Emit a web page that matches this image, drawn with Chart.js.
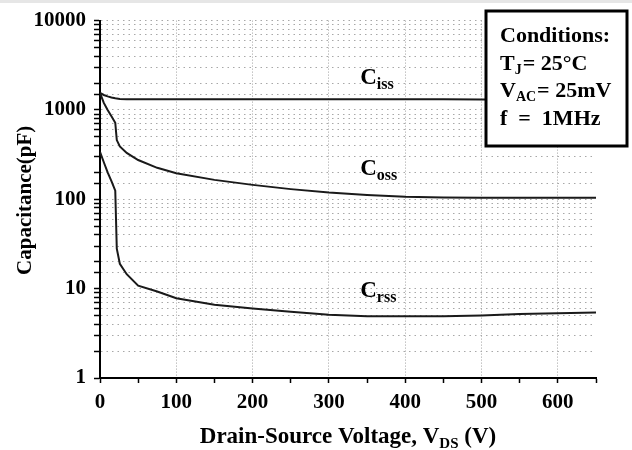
<!DOCTYPE html>
<html>
<head>
<meta charset="utf-8">
<script src="https://cdn.jsdelivr.net/npm/chart.js"></script>
<style>
    body { margin: 0; background: #fff; }
    .topband { position: absolute; left: 0; top: 0; width: 632px; height: 3px; background: #e6e6e6; }
    #capChart { position: absolute; left: 0; top: 0; }
</style>
</head>
<body>
<div class="topband"></div>
<canvas id="capChart" width="632" height="450"></canvas>
<script>
// drain-source voltage (V), shared by the three curves
const volts = [0, 5, 10, 15, 20, 22, 26, 35, 50, 75, 100, 150, 200, 250, 300, 350, 400, 450, 500, 550, 600, 650]

// capacitances (pF)
const ciss = [1550, 1470, 1420, 1380, 1350, 1345, 1330, 1320, 1320, 1320, 1320, 1320, 1320, 1320, 1320, 1320, 1315, 1315, 1310, 1310, 1310, 1310]
const coss = [1550, 1200, 1000, 850, 720, 460, 390, 330, 275, 225, 196, 165, 145, 130, 119, 112, 107, 105, 104, 104, 104, 104]
const crss = [340, 260, 200, 160, 125, 28, 19, 14.5, 10.8, 9.3, 7.8, 6.6, 6.0, 5.5, 5.1, 4.9, 4.9, 4.9, 5.0, 5.2, 5.3, 5.4]

const xTicks = [0, 100, 200, 300, 400, 500, 600]
const yTicks = [1, 10, 100, 1000, 10000]

// curve labels: [main, subscript, voltage, capacitance]
const curveLabels = [
    ['C', 'iss', 341, 1950],
    ['C', 'oss', 341, 185],
    ['C', 'rss', 341, 8]
]

const serif = '"Liberation Serif", "Times New Roman", serif'

const toPoints = vals => vals.map((v, i) => ({ x: volts[i], y: v }))

const lineStyle = {
    borderColor: '#1a1a1a',
    borderWidth: 2,
    pointRadius: 0,
    fill: false,
    tension: 0
}

function drawSub(ctx, x, y, main, sub, size, subSize, drop) {
    ctx.font = `bold ${size}px ${serif}`
    ctx.fillText(main, x, y)
    const w = ctx.measureText(main).width
    ctx.font = `bold ${subSize}px ${serif}`
    ctx.fillText(sub, x + w, y + drop)
    return x + w + ctx.measureText(sub).width
}

const textPlugin = {
    id: 'texts',
    afterDraw(chart) {
        const ctx = chart.ctx
        const xs = chart.scales.x
        const ys = chart.scales.y
        ctx.save()
        ctx.fillStyle = '#000'
        ctx.textBaseline = 'alphabetic'
        ctx.textAlign = 'left'

        curveLabels.forEach(l => {
            drawSub(ctx, xs.getPixelForValue(l[2]), ys.getPixelForValue(l[3]), l[0], l[1], 23, 16, 5)
        })

        // conditions box
        ctx.fillStyle = '#fff'
        ctx.fillRect(486, 11, 141, 135)
        ctx.strokeStyle = '#000'
        ctx.lineWidth = 3
        ctx.strokeRect(486, 11, 141, 135)
        ctx.fillStyle = '#000'
        ctx.font = `bold 22px ${serif}`
        ctx.fillText('Conditions:', 500, 42)
        let x = drawSub(ctx, 500, 70, 'T', 'J', 22, 14, 4)
        ctx.font = `bold 22px ${serif}`
        ctx.fillText('= 25°C', x + 1, 70)
        x = drawSub(ctx, 500, 97, 'V', 'AC', 22, 14, 4)
        ctx.font = `bold 22px ${serif}`
        ctx.fillText('= 25mV', x + 1, 97)
        ctx.fillText('f  =  1MHz', 500, 125)

        // x axis title
        ctx.font = `bold 23px ${serif}`
        const t1 = 'Drain-Source Voltage, V'
        const t2 = ' (V)'
        const w1 = ctx.measureText(t1).width
        const w3 = ctx.measureText(t2).width
        ctx.font = `bold 15px ${serif}`
        const w2 = ctx.measureText('DS').width
        let tx = (xs.left + xs.right) / 2 - (w1 + w2 + w3) / 2
        tx = drawSub(ctx, tx, 443, t1, 'DS', 23, 15, 5)
        ctx.font = `bold 23px ${serif}`
        ctx.fillText(t2, tx, 443)

        // y axis title
        ctx.translate(31, (ys.top + ys.bottom) / 2 + 1)
        ctx.rotate(-Math.PI / 2)
        ctx.textAlign = 'center'
        ctx.font = `bold 21px ${serif}`
        ctx.fillText('Capacitance(pF)', 0, 0)
        ctx.restore()
    }
}

var ctx = document.getElementById('capChart').getContext('2d')
var capChart = new Chart(ctx, {
    type: 'line',
    data: {
        datasets: [
            Object.assign({ label: 'Ciss', data: toPoints(ciss) }, lineStyle),
            Object.assign({ label: 'Coss', data: toPoints(coss) }, lineStyle),
            Object.assign({ label: 'Crss', data: toPoints(crss) }, lineStyle)
        ]
    },
    options: {
        responsive: false,
        animation: false,
        layout: { padding: { top: 16, right: 36, left: 0, bottom: 0 } },
        plugins: {
            legend: { display: false },
            tooltip: { enabled: false }
        },
        scales: {
            x: {
                type: 'linear',
                min: 0,
                max: 650,
                afterFit: s => { s.height = 72 },
                border: { display: true, color: '#000', width: 2, dash: [1, 2] },
                grid: {
                    color: c => xTicks.includes(c.tick.value) ? '#a0a0a0' : 'rgba(0,0,0,0)',
                    lineWidth: 1,
                    tickColor: '#000',
                    tickLength: 5,
                    tickWidth: 1.5,
                    tickBorderDash: []
                },
                ticks: {
                    stepSize: 50,
                    autoSkip: false,
                    maxRotation: 0,
                    padding: 7,
                    color: '#000',
                    font: { family: serif, size: 21, weight: 'bold' },
                    callback: v => xTicks.includes(v) ? String(v) : ''
                }
            },
            y: {
                type: 'logarithmic',
                min: 1,
                max: 10000,
                afterFit: s => { s.width = 100 },
                border: { display: true, color: '#000', width: 2, dash: [1.5, 4] },
                grid: {
                    color: '#a8a8a8',
                    lineWidth: 1,
                    tickColor: '#000',
                    tickLength: 6,
                    tickWidth: 1.5,
                    tickBorderDash: []
                },
                ticks: {
                    autoSkip: false,
                    padding: 8,
                    color: '#000',
                    font: { family: serif, size: 21, weight: 'bold' },
                    callback: v => yTicks.includes(v) ? String(v) : ''
                }
            }
        }
    },
    plugins: [textPlugin]
})
</script>
</body>
</html>
